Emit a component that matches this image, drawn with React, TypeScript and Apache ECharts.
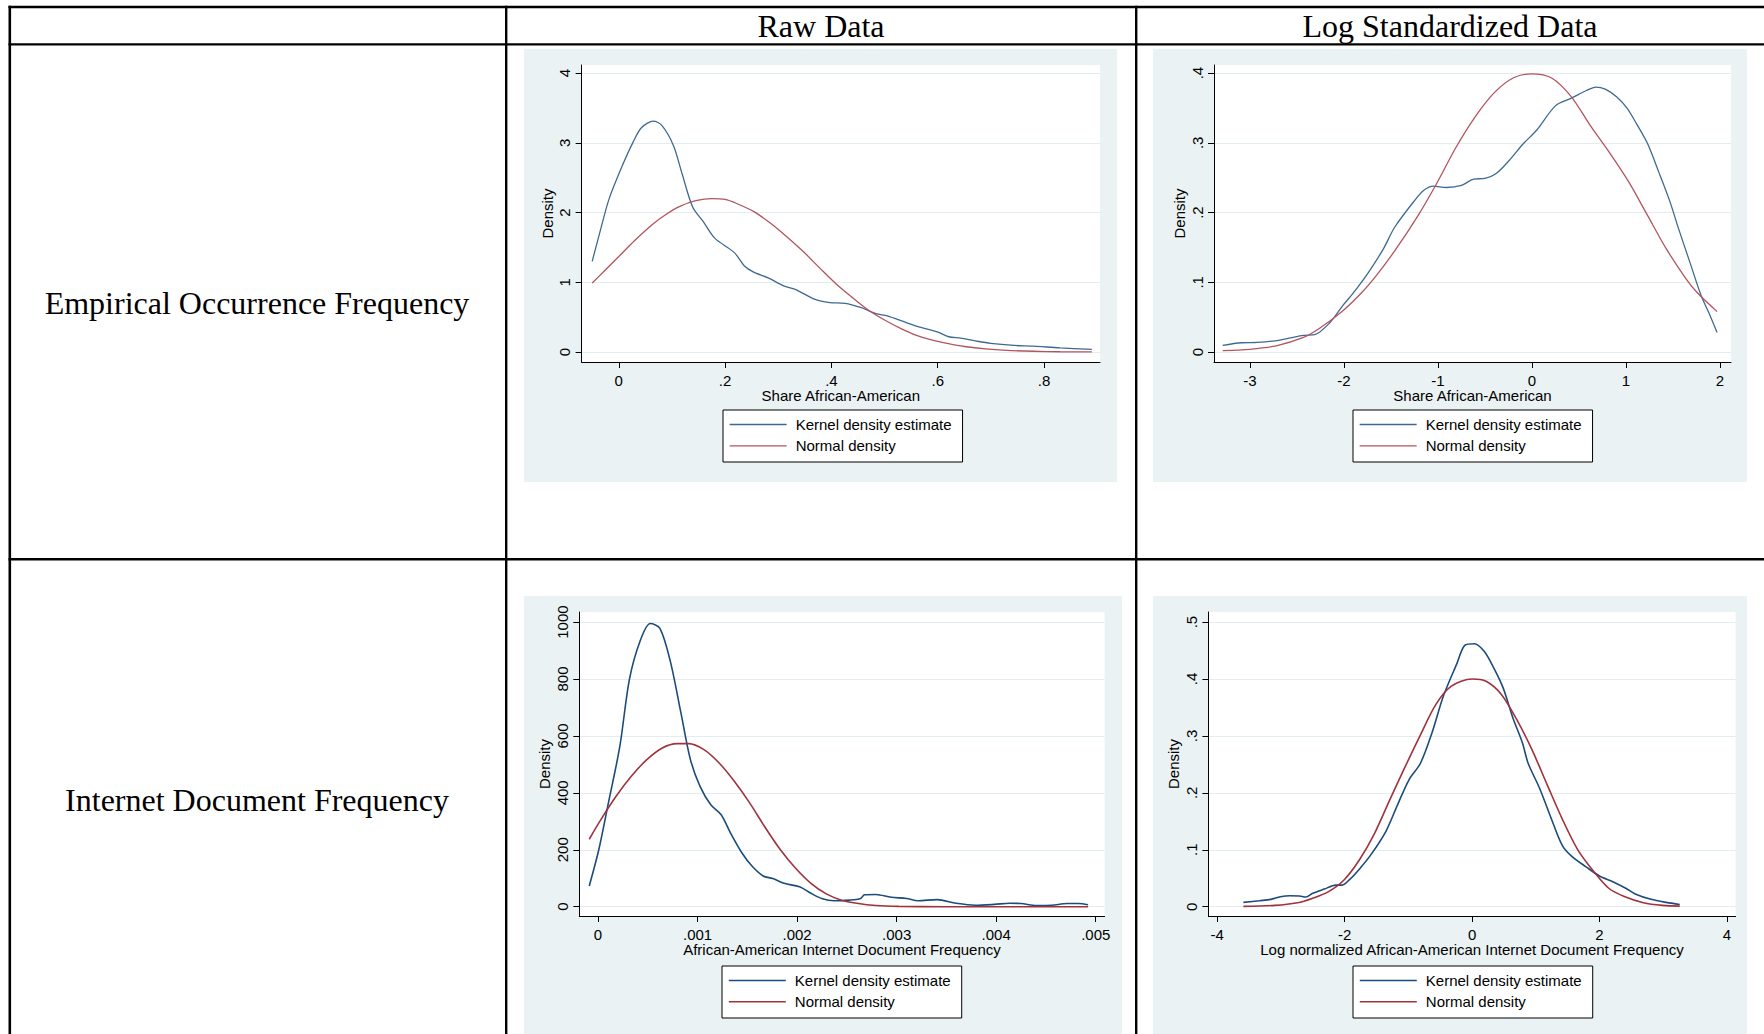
import React, { useEffect, useRef } from 'react';
import * as echarts from 'echarts';

// ---------- texts ----------
const colHeaders = ['Raw Data', 'Log Standardized Data'];
const rowLabels = ['Empirical Occurrence Frequency', 'Internet Document Frequency'];
const legendNames = ['Kernel density estimate', 'Normal density'];
const yTitle = 'Density';
const xTitles = [
  'Share African-American',
  'Share African-American',
  'African-American Internet Document Frequency',
  'Log normalized African-American Internet Document Frequency',
];

// ---------- tick values / labels ----------
const p1XTicks = [0, 0.2, 0.4, 0.6, 0.8];
const p1XTickLabels = ['0', '.2', '.4', '.6', '.8'];
const p1YTicks = [0, 1, 2, 3, 4];
const p1YTickLabels = ['0', '1', '2', '3', '4'];
const p2XTicks = [-3, -2, -1, 0, 1, 2];
const p2XTickLabels = ['-3', '-2', '-1', '0', '1', '2'];
const p2YTicks = [0, 0.1, 0.2, 0.3, 0.4];
const p2YTickLabels = ['0', '.1', '.2', '.3', '.4'];
const p3XTicks = [0, 0.001, 0.002, 0.003, 0.004, 0.005];
const p3XTickLabels = ['0', '.001', '.002', '.003', '.004', '.005'];
const p3YTicks = [0, 200, 400, 600, 800, 1000];
const p3YTickLabels = ['0', '200', '400', '600', '800', '1000'];
const p4XTicks = [-4, -2, 0, 2, 4];
const p4XTickLabels = ['-4', '-2', '0', '2', '4'];
const p4YTicks = [0, 0.1, 0.2, 0.3, 0.4, 0.5];
const p4YTickLabels = ['0', '.1', '.2', '.3', '.4', '.5'];

// ---------- data ----------
const p1KernelX = [-0.05, -0.032, -0.018, 0.006, 0.027, 0.043, 0.065, 0.081, 0.103, 0.119, 0.139, 0.159, 0.181, 0.217, 0.237, 0.253, 0.282, 0.31, 0.332, 0.368, 0.397, 0.426, 0.455, 0.484, 0.505, 0.542, 0.57, 0.599, 0.621, 0.643, 0.671, 0.7, 0.744, 0.78, 0.83, 0.89];
const p1KernelY = [1.3, 1.82, 2.2, 2.66, 3.01, 3.22, 3.31, 3.25, 2.96, 2.56, 2.08, 1.87, 1.63, 1.43, 1.23, 1.15, 1.06, 0.95, 0.9, 0.76, 0.71, 0.7, 0.64, 0.55, 0.52, 0.42, 0.35, 0.29, 0.22, 0.2, 0.16, 0.125, 0.096, 0.085, 0.06, 0.04];
const p1NormalX = [-0.05, -0.03, 0, 0.03, 0.065, 0.09, 0.115, 0.145, 0.175, 0.2, 0.225, 0.255, 0.285, 0.315, 0.35, 0.38, 0.41, 0.44, 0.47, 0.5, 0.53, 0.56, 0.59, 0.62, 0.65, 0.69, 0.73, 0.78, 0.83, 0.89];
const p1NormalY = [0.99, 1.14, 1.37, 1.6, 1.84, 1.98, 2.09, 2.17, 2.2, 2.19, 2.12, 2.01, 1.85, 1.66, 1.42, 1.19, 0.97, 0.78, 0.6, 0.46, 0.34, 0.24, 0.17, 0.12, 0.08, 0.045, 0.025, 0.012, 0.005, 0.002];

const p2KernelX = [-3.29, -3.09, -2.92, -2.68, -2.43, -2.31, -2.15, -2.01, -1.91, -1.74, -1.58, -1.46, -1.25, -1.15, -1.05, -0.91, -0.75, -0.62, -0.5, -0.38, -0.24, -0.09, 0.05, 0.25, 0.42, 0.58, 0.68, 0.78, 0.9, 1.01, 1.11, 1.23, 1.35, 1.47, 1.56, 1.68, 1.8, 1.88, 1.97];
const p2KernelY = [0.0096, 0.0134, 0.0139, 0.0173, 0.024, 0.025, 0.042, 0.067, 0.083, 0.114, 0.148, 0.179, 0.217, 0.232, 0.238, 0.236, 0.239, 0.248, 0.249, 0.256, 0.275, 0.299, 0.318, 0.353, 0.364, 0.375, 0.38, 0.377, 0.366, 0.35, 0.328, 0.299, 0.258, 0.215, 0.177, 0.129, 0.081, 0.057, 0.028];
const p2NormalX = [-3.29, -3.0, -2.72, -2.43, -2.27, -2.03, -1.82, -1.66, -1.46, -1.21, -1.0, -0.81, -0.6, -0.4, -0.2, 0, 0.21, 0.42, 0.62, 0.82, 1.03, 1.23, 1.43, 1.64, 1.76, 1.97];
const p2NormalY = [0.002, 0.004, 0.009, 0.021, 0.033, 0.057, 0.084, 0.109, 0.145, 0.196, 0.245, 0.293, 0.338, 0.372, 0.393, 0.399, 0.393, 0.366, 0.325, 0.287, 0.244, 0.196, 0.148, 0.105, 0.085, 0.058];

const p3KernelX = [-0.000088, 0.0000077, 0.000104, 0.000219, 0.000315, 0.000422, 0.000526, 0.000622, 0.000726, 0.000833, 0.000929, 0.001025, 0.001133, 0.001237, 0.001333, 0.001448, 0.001551, 0.001659, 0.001755, 0.00187, 0.002024, 0.002139, 0.002254, 0.00237, 0.002523, 0.002638, 0.002677, 0.002792, 0.002945, 0.003099, 0.003214, 0.003406, 0.003598, 0.00379, 0.003982, 0.004136, 0.004251, 0.004405, 0.004558, 0.004712, 0.004827, 0.004923];
const p3KernelY = [73, 200, 364, 563, 798, 933, 995, 978, 863, 681, 516, 423, 358, 323, 258, 188, 141, 108, 99, 82, 70, 47, 28, 21, 23, 29, 42, 43, 33, 29, 21, 25, 12, 5, 8, 12, 11, 4, 5, 11, 11, 7];
const p3NormalX = [-0.000088, 0.000027, 0.00018, 0.000334, 0.000488, 0.000641, 0.000795, 0.00091, 0.001064, 0.001217, 0.001371, 0.001525, 0.001678, 0.001832, 0.001985, 0.002139, 0.002293, 0.002446, 0.0026, 0.002792, 0.003022, 0.00348, 0.00425, 0.004923];
const p3NormalY = [237, 305, 387, 458, 516, 557, 573, 573, 552, 505, 440, 364, 279, 200, 135, 82, 45, 23, 12, 4, 1, 0, 0, 0];

const p4KernelX = [-3.59, -3.34, -3.16, -3.01, -2.86, -2.71, -2.61, -2.5, -2.32, -2.14, -2.04, -1.92, -1.77, -1.59, -1.35, -1.17, -0.99, -0.81, -0.63, -0.45, -0.235, -0.115, 0.036, 0.187, 0.338, 0.489, 0.64, 0.79, 0.88, 1.06, 1.27, 1.42, 1.57, 1.79, 2.0, 2.21, 2.42, 2.57, 2.81, 3.05, 3.26];
const p4KernelY = [0.0076, 0.0106, 0.0129, 0.0176, 0.0194, 0.0188, 0.017, 0.0235, 0.031, 0.038, 0.038, 0.048, 0.066, 0.091, 0.133, 0.179, 0.223, 0.252, 0.305, 0.37, 0.428, 0.459, 0.462, 0.449, 0.42, 0.384, 0.332, 0.288, 0.252, 0.208, 0.147, 0.107, 0.088, 0.07, 0.054, 0.044, 0.032, 0.022, 0.013, 0.0076, 0.004];
const p4NormalX = [-3.59, -3.1, -2.74, -2.5, -2.26, -2.01, -1.77, -1.53, -1.29, -1.05, -0.81, -0.57, -0.33, 0, 0.22, 0.46, 0.7, 0.94, 1.18, 1.42, 1.66, 1.91, 2.15, 2.39, 2.69, 2.99, 3.26];
const p4NormalY = [0.0006, 0.0023, 0.007, 0.015, 0.026, 0.047, 0.082, 0.129, 0.188, 0.246, 0.302, 0.355, 0.387, 0.4, 0.396, 0.373, 0.329, 0.276, 0.214, 0.153, 0.1, 0.062, 0.032, 0.018, 0.007, 0.0023, 0.001];

// ---------- styling ----------
const SANS = '"Liberation Sans", Arial, sans-serif';
const SERIF = '"Liberation Serif", "Times New Roman", serif';
const BG = '#eaf2f3';
const GRIDLINE = '#e3edf0';
const TOP_BLUE = '#3e6a92';
const TOP_RED = '#b3545e';
const BOT_BLUE = '#1c4c7c';
const BOT_RED = '#a0323c';

const zip = (xs: number[], ys: number[]) => xs.map((x, i) => [x, ys[i]]);
const fmt = (vals: number[], labels: string[]) => (v: number) => {
  const i = vals.findIndex((t) => Math.abs(t - v) <= Math.abs(t) * 1e-6 + 1e-12);
  return i >= 0 ? labels[i] : '';
};

const panels = [
  {
    grid: { left: 581.6, top: 65, width: 518.4, height: 297 },
    bg: { x: 524, y: 49, width: 593, height: 433 },
    xMin: -0.0699, xMax: 0.9053, yMin: -0.142, yMax: 4.116,
    xTicks: p1XTicks, xLabels: p1XTickLabels, yTicks: p1YTicks, yLabels: p1YTickLabels,
    kernel: zip(p1KernelX, p1KernelY), normal: zip(p1NormalX, p1NormalY),
    legend: { left: 723, top: 410 }, blue: TOP_BLUE, red: TOP_RED, lw: 1.3,
  },
  {
    grid: { left: 1214, top: 65, width: 517, height: 297 },
    bg: { x: 1153, y: 49, width: 594, height: 433 },
    xMin: -3.382, xMax: 2.118, yMin: -0.0142, yMax: 0.4116,
    xTicks: p2XTicks, xLabels: p2XTickLabels, yTicks: p2YTicks, yLabels: p2YTickLabels,
    kernel: zip(p2KernelX, p2KernelY), normal: zip(p2NormalX, p2NormalY),
    legend: { left: 1353, top: 410 }, blue: TOP_BLUE, red: TOP_RED, lw: 1.3,
  },
  {
    grid: { left: 579.3, top: 612, width: 525.3, height: 304 },
    bg: { x: 524, y: 596, width: 598, height: 438 },
    xMin: -0.000188, xMax: 0.005089, yMin: -32.7, yMax: 1035.5,
    xTicks: p3XTicks, xLabels: p3XTickLabels, yTicks: p3YTicks, yLabels: p3YTickLabels,
    kernel: zip(p3KernelX, p3KernelY), normal: zip(p3NormalX, p3NormalY),
    legend: { left: 722, top: 966 }, blue: BOT_BLUE, red: BOT_RED, lw: 1.6,
  },
  {
    grid: { left: 1208.4, top: 612, width: 527.2, height: 304 },
    bg: { x: 1153, y: 596, width: 594, height: 438 },
    xMin: -4.139, xMax: 4.137, yMin: -0.0163, yMax: 0.5177,
    xTicks: p4XTicks, xLabels: p4XTickLabels, yTicks: p4YTicks, yLabels: p4YTickLabels,
    kernel: zip(p4KernelX, p4KernelY), normal: zip(p4NormalX, p4NormalY),
    legend: { left: 1353, top: 966 }, blue: BOT_BLUE, red: BOT_RED, lw: 1.6,
  },
];

function buildOption() {
  const grids = panels.map((p) => ({
    ...p.grid,
    show: true,
    backgroundColor: '#ffffff',
    borderWidth: 0,
    containLabel: false,
  }));

  const xAxes = panels.map((p, i) => ({
    type: 'value',
    gridIndex: i,
    min: p.xMin,
    max: p.xMax,
    name: xTitles[i],
    nameLocation: 'middle',
    nameGap: 23,
    nameTextStyle: { fontSize: 15, fontFamily: SANS, color: '#000' },
    axisLine: { show: true, onZero: false, lineStyle: { color: '#000', width: 1 } },
    axisTick: { show: true, length: 6, customValues: p.xTicks, lineStyle: { color: '#000', width: 1 } },
    axisLabel: {
      show: true,
      customValues: p.xTicks,
      formatter: fmt(p.xTicks, p.xLabels),
      fontSize: 15,
      fontFamily: SANS,
      color: '#000',
      margin: 10.5,
    },
    splitLine: { show: false },
  }));

  const yAxes = panels.map((p, i) => ({
    type: 'value',
    gridIndex: i,
    min: p.yMin,
    max: p.yMax,
    name: yTitle,
    nameLocation: 'middle',
    nameGap: 27,
    nameTextStyle: { fontSize: 15, fontFamily: SANS, color: '#000' },
    axisLine: { show: true, onZero: false, lineStyle: { color: '#000', width: 1 } },
    axisTick: { show: true, length: 6, customValues: p.yTicks, lineStyle: { color: '#000', width: 1 } },
    axisLabel: {
      show: true,
      customValues: p.yTicks,
      formatter: fmt(p.yTicks, p.yLabels),
      rotate: 90,
      fontSize: 15,
      fontFamily: SANS,
      color: '#000',
      margin: 9.5,
    },
    splitLine: { show: true, lineStyle: { color: GRIDLINE, width: 1 } },
  }));

  const series: any[] = [];
  panels.forEach((p, i) => {
    series.push({
      type: 'line',
      name: legendNames[0],
      xAxisIndex: i,
      yAxisIndex: i,
      data: p.kernel,
      symbol: 'none',
      smooth: 0.3,
      silent: true,
      lineStyle: { color: p.blue, width: p.lw },
      itemStyle: { color: p.blue },
      z: 3,
    });
    series.push({
      type: 'line',
      name: legendNames[1],
      xAxisIndex: i,
      yAxisIndex: i,
      data: p.normal,
      symbol: 'none',
      smooth: 0.3,
      silent: true,
      lineStyle: { color: p.red, width: p.lw },
      itemStyle: { color: p.red },
      z: 4,
    });
  });

  const legends = panels.map((p) => ({
    orient: 'vertical',
    left: p.legend.left,
    top: p.legend.top,
    data: [
      { name: legendNames[0], itemStyle: { color: p.blue, opacity: 0 }, lineStyle: { color: p.blue, width: p.lw, opacity: 1 } },
      { name: legendNames[1], itemStyle: { color: p.red, opacity: 0 }, lineStyle: { color: p.red, width: p.lw, opacity: 1 } },
    ],
    itemWidth: 57,
    itemHeight: 14,
    itemGap: 6.3,
    padding: [7, 11, 8.7, 6],
    backgroundColor: '#ffffff',
    borderColor: '#000000',
    borderWidth: 1,
    borderRadius: 0,
    selectedMode: false,
    textStyle: { fontSize: 15, fontFamily: SANS, color: '#000', padding: [0, 0, 0, 4] },
  }));

  const rule = (x: number, y: number, w: number, h: number) => ({
    type: 'rect',
    z: 50,
    silent: true,
    shape: { x, y, width: w, height: h },
    style: { fill: '#000' },
  });

  const graphics: any[] = [
    ...panels.map((p) => ({
      type: 'rect',
      z: -10,
      silent: true,
      shape: { ...p.bg },
      style: { fill: BG },
    })),
    rule(8.5, 5.8, 1756, 2.4),
    rule(8.5, 43.2, 1756, 2.4),
    rule(8.5, 558, 1756, 2.4),
    rule(8.5, 5.8, 2.6, 1030),
    rule(505, 5.8, 2.4, 1030),
    rule(1135, 5.8, 2.4, 1030),
    {
      type: 'text', z: 50, silent: true, x: 821, y: 26,
      style: { text: colHeaders[0], font: `32px ${SERIF}`, fill: '#000', textAlign: 'center', textVerticalAlign: 'middle' },
    },
    {
      type: 'text', z: 50, silent: true, x: 1450, y: 26,
      style: { text: colHeaders[1], font: `32px ${SERIF}`, fill: '#000', textAlign: 'center', textVerticalAlign: 'middle' },
    },
    {
      type: 'text', z: 50, silent: true, x: 257, y: 303,
      style: { text: rowLabels[0], font: `32px ${SERIF}`, fill: '#000', textAlign: 'center', textVerticalAlign: 'middle' },
    },
    {
      type: 'text', z: 50, silent: true, x: 257, y: 800,
      style: { text: rowLabels[1], font: `32px ${SERIF}`, fill: '#000', textAlign: 'center', textVerticalAlign: 'middle' },
    },
  ];

  return {
    animation: false,
    backgroundColor: '#ffffff',
    grid: grids,
    xAxis: xAxes,
    yAxis: yAxes,
    series,
    legend: legends,
    graphic: { elements: graphics },
  };
}

export default function App() {
  const ref = useRef<HTMLDivElement>(null);
  useEffect(() => {
    if (!ref.current) return;
    const chart = echarts.init(ref.current, undefined, { renderer: 'svg' });
    chart.setOption(buildOption() as any);
    return () => chart.dispose();
  }, []);
  return (
    <div
      ref={ref}
      style={{ position: 'absolute', left: 0, top: 0, width: 1764, height: 1034 }}
    />
  );
}
